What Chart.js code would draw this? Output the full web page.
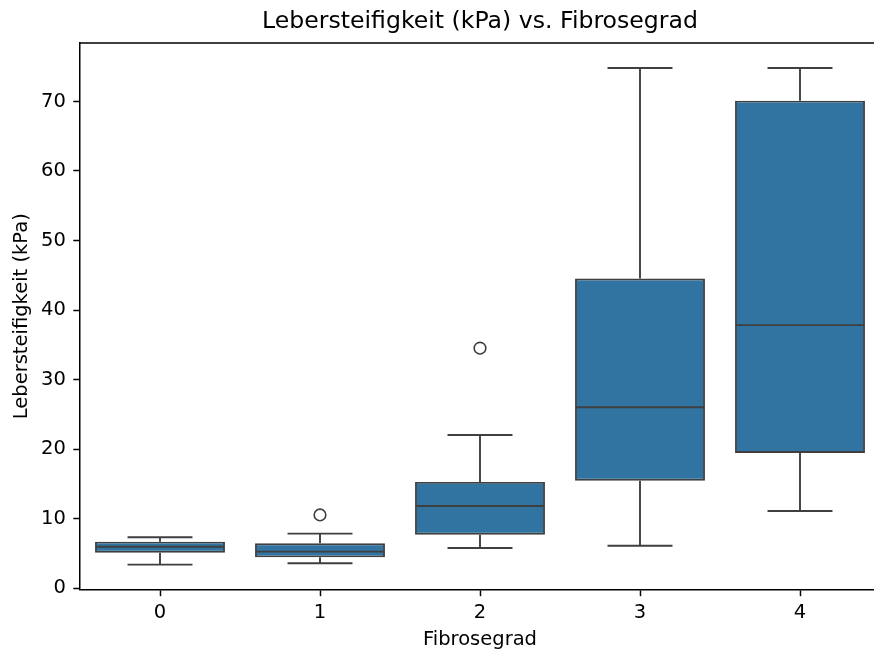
<!DOCTYPE html>
<html>
<head>
<meta charset="utf-8">
<title>Lebersteifigkeit (kPa) vs. Fibrosegrad</title>
<script src="https://cdn.jsdelivr.net/npm/chart.js@4"></script>
<style>
  html, body { margin: 0; padding: 0; background: #ffffff; overflow: hidden; }
  #wrap { width: 874px; height: 652px; overflow: hidden; position: relative; }
  canvas { display: block; }
</style>
</head>
<body>
<div id="wrap">
  <canvas id="chart" width="890" height="652"></canvas>
</div>
<script>
// Fibrosis grades on the x axis
const categories = ['0', '1', '2', '3', '4'];

// Box-plot statistics of liver stiffness (kPa) per grade
const whiskerLow  = [3.40, 3.60, 5.80, 6.13, 11.12];
const q1          = [5.12, 4.46, 7.71, 15.48, 19.46];
const median      = [5.98, 5.27, 11.84, 26.04, 37.84];
const q3          = [6.70, 6.47, 15.29, 44.54, 70.11];
const whiskerHigh = [7.34, 7.86, 22.05, 74.81, 74.81];

// Single outlier per grade (null = none)
const outliers = [null, 10.55, 34.53, null, null];

// Y axis tick values
const yTicks = [0, 10, 20, 30, 40, 50, 60, 70];

const BOX_FILL = '#3274a1';
const BOX_LINE = '#3f3f3f';
const AXIS_COLOR = '#000000';
const FONT = 'DejaVu Sans';
const BOX_LW = 1.9;
const LABEL_SIZE = 19.5;

// Whiskers, caps and median lines drawn on top of the floating bars
const boxDetails = {
  id: 'boxDetails',
  afterDatasetsDraw(chart) {
    const ctx = chart.ctx;
    const yScale = chart.scales.y;
    const meta = chart.getDatasetMeta(0);
    ctx.save();
    ctx.strokeStyle = BOX_LINE;
    ctx.lineWidth = BOX_LW;
    ctx.lineCap = 'butt';
    meta.data.forEach((bar, i) => {
      const cx = bar.x;
      const half = bar.width / 2 - BOX_LW / 2;
      const capHalf = bar.width / 4;
      const yMed = yScale.getPixelForValue(median[i]);
      const yQ1 = yScale.getPixelForValue(q1[i]);
      const yQ3 = yScale.getPixelForValue(q3[i]);
      const yLo = yScale.getPixelForValue(whiskerLow[i]);
      const yHi = yScale.getPixelForValue(whiskerHigh[i]);
      ctx.beginPath();
      // median
      ctx.moveTo(cx - half, yMed);
      ctx.lineTo(cx + half, yMed);
      // upper whisker and cap
      ctx.moveTo(cx, yQ3);
      ctx.lineTo(cx, yHi);
      ctx.moveTo(cx - capHalf, yHi);
      ctx.lineTo(cx + capHalf, yHi);
      // lower whisker and cap
      ctx.moveTo(cx, yQ1);
      ctx.lineTo(cx, yLo);
      ctx.moveTo(cx - capHalf, yLo);
      ctx.lineTo(cx + capHalf, yLo);
      ctx.stroke();
    });
    ctx.restore();
  }
};

// Top and right spines of the axes frame
const frame = {
  id: 'frame',
  afterDraw(chart) {
    const {ctx, chartArea} = chart;
    ctx.save();
    ctx.strokeStyle = AXIS_COLOR;
    ctx.lineWidth = 1.5;
    ctx.beginPath();
    ctx.moveTo(chartArea.left, chartArea.top);
    ctx.lineTo(chartArea.right, chartArea.top);
    ctx.lineTo(chartArea.right, chartArea.bottom);
    ctx.stroke();
    ctx.restore();
  }
};

new Chart(document.getElementById('chart'), {
  type: 'bar',
  data: {
    labels: categories,
    datasets: [
      {
        type: 'bar',
        label: 'Box',
        data: categories.map((_, i) => [q1[i], q3[i]]),
        backgroundColor: BOX_FILL,
        borderColor: BOX_LINE,
        borderWidth: BOX_LW,
        borderSkipped: false,
        barPercentage: 1.0,
        categoryPercentage: 0.812
      },
      {
        type: 'line',
        label: 'Ausreißer',
        data: outliers,
        showLine: false,
        pointStyle: 'circle',
        pointRadius: 5.8,
        pointBorderWidth: 1.6,
        pointBorderColor: BOX_LINE,
        pointBackgroundColor: 'rgba(255,255,255,0)'
      }
    ]
  },
  options: {
    responsive: false,
    animation: false,
    devicePixelRatio: 1,
    layout: { padding: { left: 0, right: 10, top: 0, bottom: 0 } },
    plugins: {
      legend: { display: false },
      tooltip: { enabled: false },
      title: {
        display: true,
        text: 'Lebersteifigkeit (kPa) vs. Fibrosegrad',
        fullSize: false,
        color: AXIS_COLOR,
        font: { family: FONT, size: 23.6, weight: 'normal', lineHeight: 1.2 },
        padding: { top: 7.8, bottom: 6.9 }
      }
    },
    scales: {
      x: {
        type: 'category',
        offset: true,
        grid: {
          display: true,
          offset: false,
          drawOnChartArea: false,
          drawTicks: true,
          tickLength: 6.7,
          tickWidth: 1.5,
          tickColor: AXIS_COLOR
        },
        border: { display: true, color: AXIS_COLOR, width: 1.5 },
        ticks: {
          color: AXIS_COLOR,
          padding: 4.6,
          maxRotation: 0,
          font: { family: FONT, size: LABEL_SIZE, lineHeight: 1.2 }
        },
        title: {
          display: true,
          text: 'Fibrosegrad',
          color: AXIS_COLOR,
          font: { family: FONT, size: LABEL_SIZE, lineHeight: 1.2 },
          padding: { top: 0, bottom: 0.6 }
        },
        afterFit(scale) { scale.height = 62.5; }
      },
      y: {
        type: 'linear',
        min: -0.17,
        max: 78.4,
        grid: {
          display: true,
          drawOnChartArea: false,
          drawTicks: true,
          tickLength: 6.7,
          tickWidth: 1.5,
          tickColor: AXIS_COLOR
        },
        border: { display: true, color: AXIS_COLOR, width: 1.5 },
        ticks: {
          color: AXIS_COLOR,
          padding: 7.5,
          font: { family: FONT, size: LABEL_SIZE, lineHeight: 1.2 }
        },
        afterBuildTicks(scale) {
          scale.ticks = yTicks.map(v => ({ value: v }));
        },
        title: {
          display: true,
          text: 'Lebersteifigkeit (kPa)',
          color: AXIS_COLOR,
          font: { family: FONT, size: LABEL_SIZE, lineHeight: 1.2 },
          padding: { top: 10.3, bottom: 0 }
        },
        afterFit(scale) { scale.width = 80; }
      }
    }
  },
  plugins: [boxDetails, frame]
});
</script>
</body>
</html>
